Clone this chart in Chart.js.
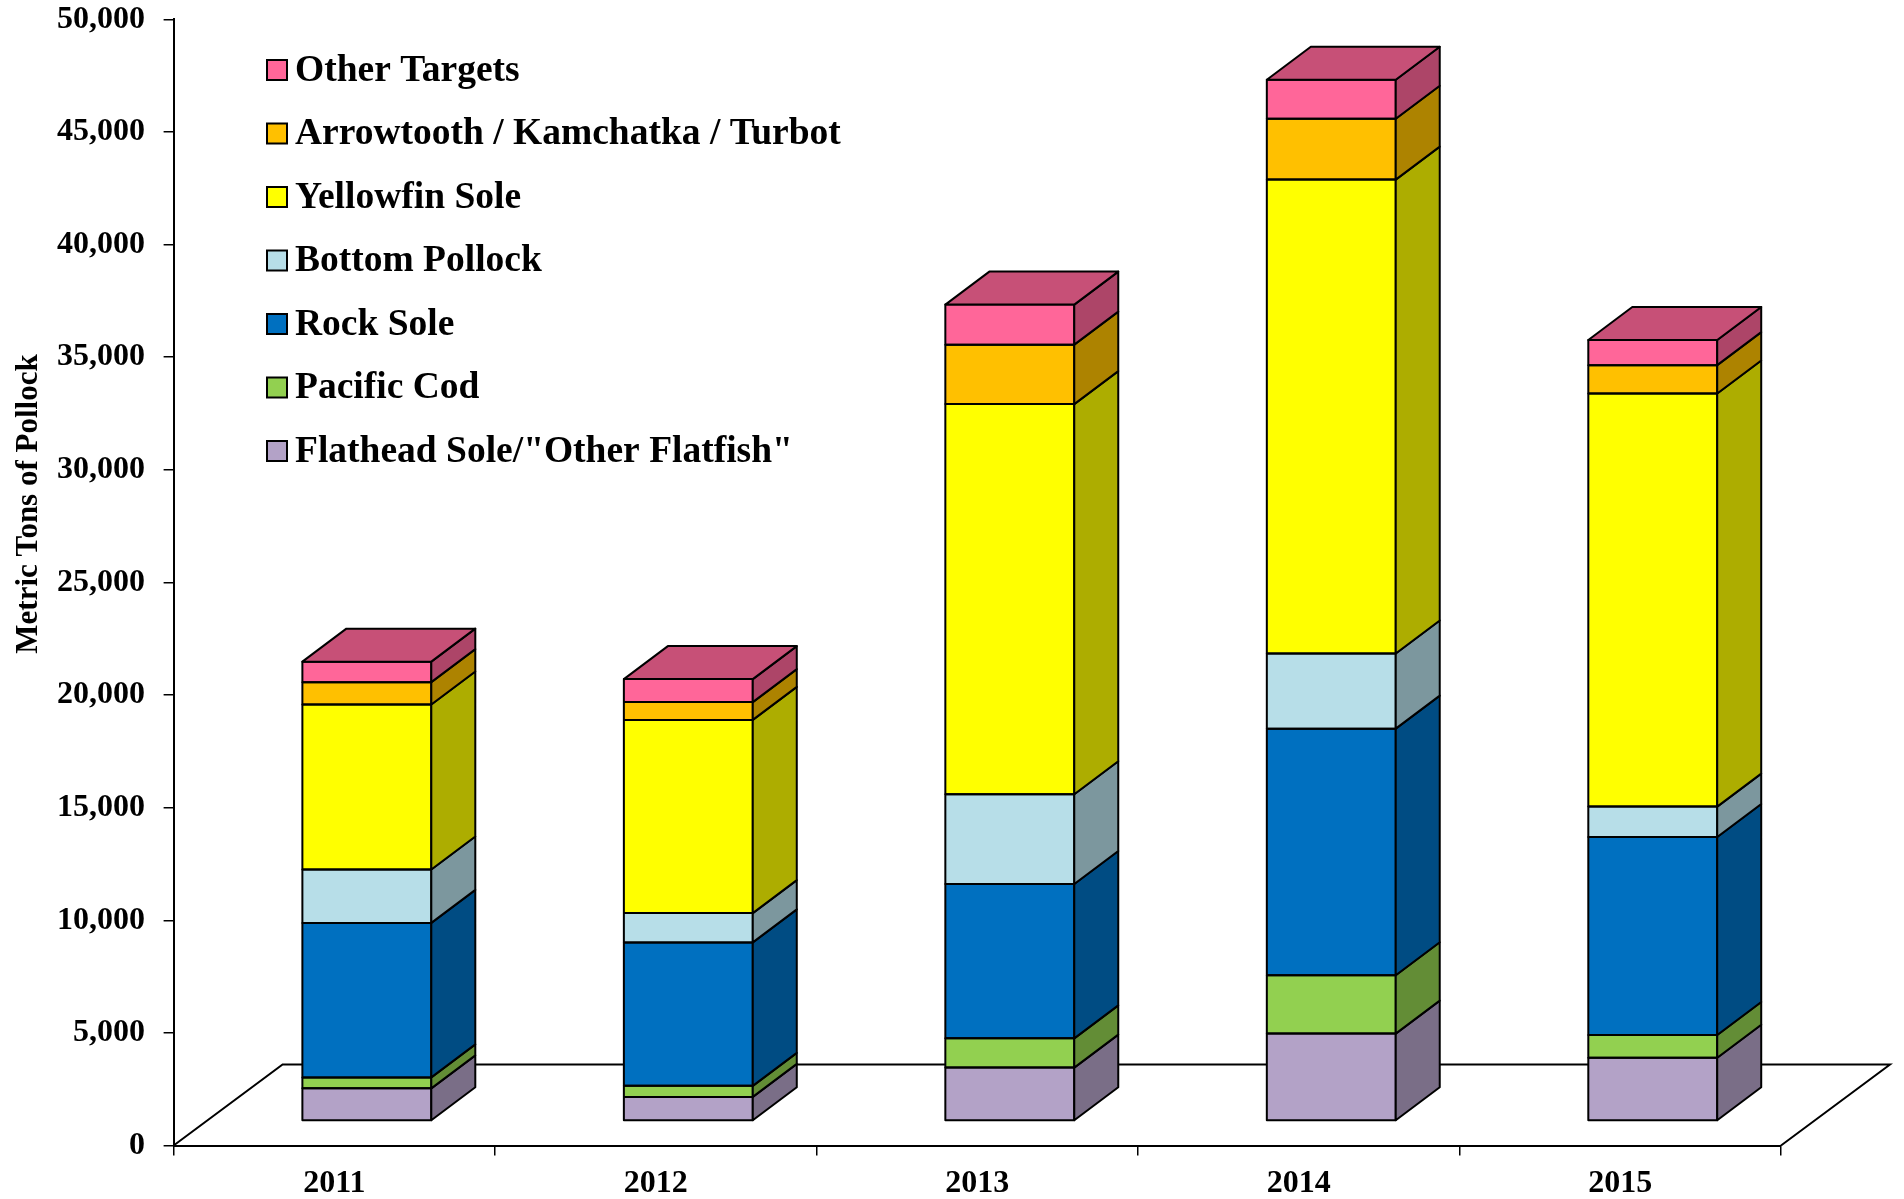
<!DOCTYPE html>
<html>
<head>
<meta charset="utf-8">
<script src="https://cdn.jsdelivr.net/npm/chart.js@4.4.1/dist/chart.umd.min.js"></script>
<style>
  html, body { margin: 0; padding: 0; background: #ffffff; }
  canvas { display: block; }
</style>
</head>
<body>
<canvas id="c" width="1904" height="1199"></canvas>
<script>
// ---- data (metric tons) ----
const categories = ['2011', '2012', '2013', '2014', '2015'];
const flatheadSole   = [1450, 1070, 2370, 3880, 2810];
const pacificCod     = [485, 490, 1300, 2590, 1010];
const rockSole       = [6860, 6370, 6850, 10950, 8790];
const bottomPollock  = [2370, 1300, 3990, 3340, 1350];
const yellowfinSole  = [7330, 8580, 17320, 21040, 18340];
const arrowtooth     = [990, 790, 2640, 2700, 1260];
const otherTargets   = [910, 1020, 1780, 1730, 1120];

const seriesNames = ['Flathead Sole/"Other Flatfish"', 'Pacific Cod', 'Rock Sole', 'Bottom Pollock',
                     'Yellowfin Sole', 'Arrowtooth / Kamchatka / Turbot', 'Other Targets'];
const seriesData = [flatheadSole, pacificCod, rockSole, bottomPollock, yellowfinSole, arrowtooth, otherTargets];
const seriesColors = ['#B3A2C7', '#92D050', '#0070C0', '#B7DEE8', '#FFFF00', '#FFC000', '#FF6699'];

const yMax = 50000;
const yStep = 5000;
const yTitle = 'Metric Tons of Pollock';

// ---- drawing constants ----
const FONT = '"Liberation Serif", "Times New Roman", serif';
const SHIFT_X = 32.5, SHIFT_Y = -24.5;   // bar front plane offset
const BAR_DX = 44, BAR_DY = -33;         // bar depth
const FLOOR_DX = 109, FLOOR_DY = -81;    // floor depth

function shade(hex, f) {
  const n = parseInt(hex.slice(1), 16);
  const r = Math.round(((n >> 16) & 255) * f);
  const g = Math.round(((n >> 8) & 255) * f);
  const b = Math.round((n & 255) * f);
  return 'rgb(' + r + ',' + g + ',' + b + ')';
}

const bar3d = {
  id: 'bar3d',
  beforeDatasetsDraw(chart) {
    const ctx = chart.ctx;
    const a = chart.chartArea;
    const y0 = chart.scales.y.getPixelForValue(0);
    ctx.save();
    ctx.strokeStyle = '#000';
    ctx.lineWidth = 2;
    ctx.lineJoin = 'miter';
    ctx.beginPath();
    ctx.moveTo(a.left, y0);
    ctx.lineTo(a.left + FLOOR_DX, y0 + FLOOR_DY);
    ctx.lineTo(a.right + FLOOR_DX, y0 + FLOOR_DY);
    ctx.lineTo(a.right, y0);
    ctx.stroke();
    ctx.restore();
    ctx.save();
    ctx.translate(SHIFT_X, SHIFT_Y);
  },
  afterDatasetsDraw(chart) {
    const ctx = chart.ctx;
    ctx.lineWidth = 2;
    ctx.strokeStyle = '#000';
    ctx.lineJoin = 'round';
    const n = chart.data.datasets.length;
    for (let d = 0; d < n; d++) {
      const meta = chart.getDatasetMeta(d);
      const col = seriesColors[d];
      meta.data.forEach((el) => {
        const p = el.getProps(['x', 'y', 'base', 'width'], true);
        const L = p.x - p.width / 2, R = p.x + p.width / 2;
        const top = Math.min(p.y, p.base), bot = Math.max(p.y, p.base);
        // front outline
        ctx.strokeRect(L, top, R - L, bot - top);
        // side face
        ctx.beginPath();
        ctx.moveTo(R, top);
        ctx.lineTo(R + BAR_DX, top + BAR_DY);
        ctx.lineTo(R + BAR_DX, bot + BAR_DY);
        ctx.lineTo(R, bot);
        ctx.closePath();
        ctx.fillStyle = shade(col, 0.68);
        ctx.fill();
        ctx.stroke();
        if (d === n - 1) {
          ctx.beginPath();
          ctx.moveTo(L, top);
          ctx.lineTo(L + BAR_DX, top + BAR_DY);
          ctx.lineTo(R + BAR_DX, top + BAR_DY);
          ctx.lineTo(R, top);
          ctx.closePath();
          ctx.fillStyle = shade(col, 0.78);
          ctx.fill();
          ctx.stroke();
        }
      });
    }
    ctx.restore();
  },
  afterDraw(chart) {
    const ctx = chart.ctx;
    // legend (top to bottom = reverse stack order)
    ctx.save();
    ctx.font = 'bold 37.5px ' + FONT;
    ctx.textBaseline = 'middle';
    ctx.textAlign = 'left';
    const rows = seriesNames.length;
    for (let i = 0; i < rows; i++) {
      const idx = rows - 1 - i;
      const cy = 70 + i * 63.5;
      ctx.fillStyle = seriesColors[idx];
      ctx.fillRect(267, cy - 10, 20, 20);
      ctx.lineWidth = 2;
      ctx.strokeStyle = '#000';
      ctx.strokeRect(267, cy - 10, 20, 20);
      ctx.fillStyle = '#000';
      ctx.fillText(seriesNames[idx], 295, cy + 1);
    }
    ctx.restore();
    // y-axis title
    ctx.save();
    ctx.translate(37, 504);
    ctx.rotate(-Math.PI / 2);
    ctx.font = 'bold 31px ' + FONT;
    ctx.textAlign = 'center';
    ctx.textBaseline = 'alphabetic';
    ctx.fillStyle = '#000';
    ctx.fillText(yTitle, 0, 0);
    ctx.restore();
  }
};

const datasets = seriesData.map((arr, i) => ({
  label: seriesNames[i],
  data: arr,
  backgroundColor: seriesColors[i],
  borderWidth: 0,
  categoryPercentage: 1.0,
  barPercentage: 0.401,
  clip: false
}));

new Chart(document.getElementById('c'), {
  type: 'bar',
  data: { labels: categories, datasets: datasets },
  options: {
    responsive: false,
    animation: false,
    devicePixelRatio: 1,
    layout: { padding: { left: 0, right: 123, top: 19.4, bottom: 0 } },
    plugins: { legend: { display: false }, tooltip: { enabled: false }, title: { display: false } },
    scales: {
      x: {
        stacked: true,
        afterFit: (s) => { s.height = 53.5; s.paddingLeft = 0; s.paddingRight = 0; },
        grid: { display: true, drawOnChartArea: false, drawTicks: true, tickLength: 10, color: '#000', lineWidth: 1.5, offset: true },
        border: { display: true, color: '#000', width: 2 },
        ticks: { color: '#000', padding: 8.7, font: { family: FONT, size: 32, weight: 'bold', lineHeight: 1.2 } }
      },
      y: {
        stacked: true,
        min: 0,
        max: yMax,
        afterFit: (s) => { s.width = 173.6; s.paddingTop = 0; s.paddingBottom = 0; },
        grid: { display: true, drawOnChartArea: false, drawTicks: true, tickLength: 10, color: '#000', lineWidth: 1.5 },
        border: { display: true, color: '#000', width: 2 },
        ticks: {
          stepSize: yStep,
          color: '#000',
          padding: 18.6,
          font: { family: FONT, size: 32, weight: 'bold', lineHeight: 1.1 },
          callback: (v) => Number(v).toLocaleString('en-US')
        }
      }
    }
  },
  plugins: [bar3d]
});
</script>
</body>
</html>
